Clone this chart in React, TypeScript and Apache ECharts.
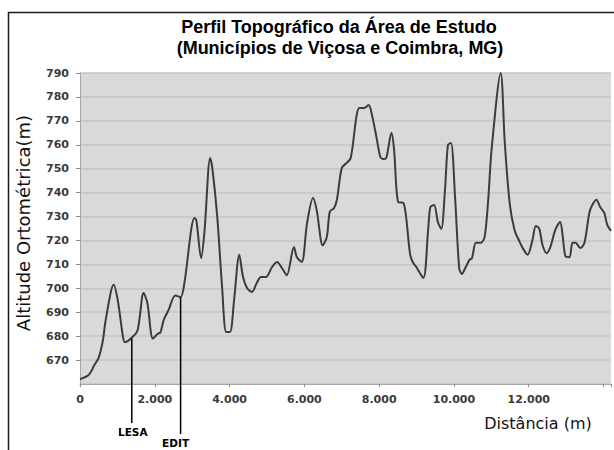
import React, { useEffect, useRef } from "react";
import * as echarts from "echarts";

// Distance along profile (m)
const distances = [
  0, 210, 290, 370, 500, 610, 690, 900, 1010, 1150, 1200, 1360, 1540, 1700, 1800,
  1950, 2080, 2150, 2240, 2370, 2550, 2690, 2790, 3060, 3110, 3240, 3330, 3480,
  3540, 3670, 3800, 3910, 4010, 4120, 4260, 4360, 4470, 4600, 4720, 4840, 4970,
  5140, 5270, 5400, 5530, 5720, 5800, 5930, 6070, 6230, 6330, 6490, 6600, 6680,
  6790, 6870, 7000, 7130, 7240, 7470, 7600, 7720, 7800, 7930, 8030, 8110, 8190,
  8330, 8400, 8510, 8650, 8830, 8910, 8990, 9180, 9310, 9370, 9470, 9570, 9660,
  9760, 9840, 9920, 10030, 10140, 10210, 10320, 10420, 10480, 10590, 10720, 10820,
  10910, 11010, 11250, 11360, 11490, 11620, 11760, 11840, 11970, 12100, 12190,
  12280, 12370, 12480, 12580, 12710, 12840, 12900, 12980, 13090, 13170, 13250,
  13380, 13490, 13620, 13700, 13810, 13910, 14020, 14100, 14200,
];

// Orthometric altitude (m)
const altitudes = [
  662, 663.5, 665, 667.5, 671, 678, 687, 701.5, 695, 679.7, 677.5, 679, 682.5, 698, 694,
  679, 681, 681.5, 686.8, 691, 697, 696.3, 702, 729.4, 728.6, 712.6, 724, 754.5,
  750, 730, 700.5, 681.7, 681.7, 695, 714, 704.7, 700, 698.5, 702, 704.7, 704.7,
  709, 711, 708.5, 705.5, 717.3, 713, 711, 727, 737.7, 732.7, 718, 721.4, 732,
  733.5, 737, 750.3, 752.4, 754.5, 775.4, 775.4, 776.6, 773, 763, 755, 754, 754.5,
  765, 757.8, 736, 735.7, 714, 710.6, 709, 704.3, 724.4, 734, 734.8, 727.7, 724.8,
  741, 760, 760.7, 738, 708.5, 706, 709, 712, 712.5, 719, 719, 721.5,
  735.6, 758.6, 790, 760.7, 735.6, 724.4, 719.3, 716.8, 714, 720.2, 726,
  725, 718, 714.7, 717.3, 724.4, 727.7, 723, 713.5, 713, 719, 719,
  716.8, 719, 731.5, 734.8, 737, 734, 731.5, 726.5, 724,
];

// Axis settings
const yMin = 660;
const yMax = 790;
const yStep = 10;
const xMin = 0;
const xMax = 14200;
const xStep = 2000;
const xLastLabel = 12000;

// Annotated points (label, distance, altitude on the profile)
const markerLabels = ["LESA", "EDIT"];
const markerDistances = [1385, 2690];
const markerAltitudes = [679, 696.3];

const titleLines = [
  "Perfil Topográfico da Área de Estudo",
  "(Municípios de Viçosa e Coimbra, MG)",
];
const yName = "Altitude Ortométrica(m)";
const xName = "Distância (m)";

const fmt = (v: number) =>
  String(v).replace(/\B(?=(\d{3})+(?!\d))/g, ".");

export default function App() {
  const ref = useRef<HTMLDivElement>(null);

  useEffect(() => {
    if (!ref.current) return;
    const chart = echarts.init(ref.current, undefined, { renderer: "svg" });
    const tickFont = {
      fontFamily: "DejaVu Sans",
      fontWeight: "bold" as const,
      fontSize: 11,
      color: "#3a3a3a",
    };
    chart.setOption({
      animation: false,
      backgroundColor: "#ffffff",
      grid: {
        left: 80,
        top: 73,
        right: 0,
        bottom: 66,
        show: true,
        backgroundColor: "#d9d9d9",
        borderWidth: 0,
      },
      xAxis: {
        type: "value",
        min: xMin,
        max: xMax,
        interval: xStep,
        axisLine: { show: true, lineStyle: { color: "#a6a6a6", width: 1 } },
        axisTick: { show: true, length: 3, lineStyle: { color: "#8c8c8c" } },
        splitLine: { show: false },
        axisLabel: {
          ...tickFont,
          margin: 10,
          showMaxLabel: true,
          formatter: (v: number) => (v > xLastLabel ? "" : fmt(v)),
        },
      },
      yAxis: {
        type: "value",
        min: yMin,
        max: yMax,
        interval: yStep,
        axisLine: { show: true, lineStyle: { color: "#a6a6a6", width: 1 } },
        axisTick: { show: true, length: 4, lineStyle: { color: "#8c8c8c" } },
        splitLine: { show: true, lineStyle: { color: "#c4c4c4", width: 1.5 } },
        axisLabel: {
          ...tickFont,
          margin: 11,
          showMinLabel: false,
          formatter: (v: number) => String(v),
        },
      },
      series: [
        {
          type: "line",
          data: distances.map((d, i) => [d, altitudes[i]]),
          showSymbol: false,
          smooth: 0.3,
          lineStyle: { color: "#3c3c3c", width: 2 },
          clip: true,
        },
      ],
    });

    const markerGraphics: any[] = [];
    markerLabels.forEach((label, i) => {
      const top = chart.convertToPixel({ gridIndex: 0 }, [
        markerDistances[i],
        markerAltitudes[i],
      ]) as number[];
      const bottom = i === 0 ? 423 : 434;
      markerGraphics.push({
        type: "line",
        shape: { x1: top[0], y1: top[1], x2: top[0], y2: bottom },
        style: { stroke: "#000000", lineWidth: 1.5 },
        z: 10,
      });
      markerGraphics.push({
        type: "text",
        x: top[0] + (i === 0 ? 1 : -5),
        y: bottom + 9,
        style: {
          text: label,
          fill: "#000000",
          font: "bold 10.5px 'DejaVu Sans'",
          align: "center",
          verticalAlign: "middle",
        },
        z: 10,
      });
    });

    chart.setOption({
      graphic: [
        {
          type: "rect",
          shape: { x: 8.5, y: 12.5, width: 800, height: 600 },
          style: { fill: "none", stroke: "#1a1a1a", lineWidth: 1.5 },
          silent: true,
        },
        {
          type: "text",
          x: 339,
          y: 27,
          style: {
            text: titleLines[0],
            fill: "#000000",
            font: "bold 18px 'Liberation Sans'",
            align: "center",
            verticalAlign: "middle",
          },
        },
        {
          type: "text",
          x: 340,
          y: 48,
          style: {
            text: titleLines[1],
            fill: "#000000",
            font: "bold 18px 'Liberation Sans'",
            align: "center",
            verticalAlign: "middle",
          },
        },
        {
          type: "text",
          x: 23,
          y: 223,
          rotation: Math.PI / 2,
          style: {
            text: yName,
            fill: "#111111",
            font: "18px 'DejaVu Sans'",
            align: "center",
            verticalAlign: "middle",
          },
        },
        {
          type: "text",
          x: 538,
          y: 423,
          style: {
            text: xName,
            fill: "#111111",
            font: "16px 'DejaVu Sans'",
            align: "center",
            verticalAlign: "middle",
          },
        },
        ...markerGraphics,
      ],
    });

    return () => chart.dispose();
  }, []);

  return (
    <div
      ref={ref}
      style={{ position: "absolute", left: 0, top: 0, width: 614, height: 450 }}
    />
  );
}
